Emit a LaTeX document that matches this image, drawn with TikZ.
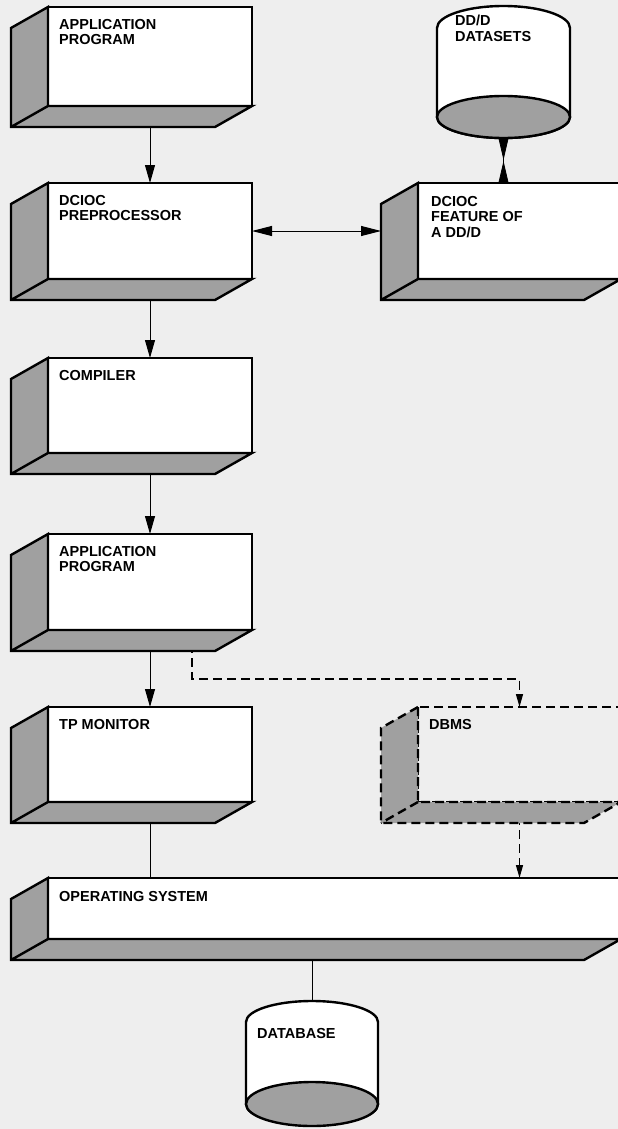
\documentclass[tikz,border=0pt]{standalone}
\usepackage{fontspec}
\setmainfont{Liberation Sans}
\usetikzlibrary{arrows.meta,positioning,backgrounds,calc}
\definecolor{paper}{RGB}{238,238,238}
\definecolor{stipple}{RGB}{160,160,160}
\tikzset{
  front/.style={rectangle, draw=black, line width=2.4pt, fill=white, outer sep=0pt,
                minimum width=204pt, minimum height=96pt, inner sep=0pt},
  ghost/.style={front, fill=none, dash pattern=on 9pt off 5pt},
  face/.style={draw=black, line width=2.4pt, fill=stipple},
  ghostface/.style={face, dash pattern=on 9pt off 5pt},
  caption/.style={anchor=north west, inner sep=0pt, align=left,
                  font=\fontsize{14.5}{15.5}\selectfont\bfseries},
  drum/.style={draw=black, line width=2.4pt, fill=white},
  flow/.style={-{Triangle[length=18pt,width=10pt]}, line width=1pt},
  twoway/.style={{Triangle[length=20pt,width=10pt]}-{Triangle[length=20pt,width=10pt]}, line width=1pt},
  hourglass/.style={{Triangle[reversed,length=22pt,width=10pt]}-{Triangle[reversed,length=22pt,width=10pt]}, line width=0.8pt},
  link/.style={line width=1pt},
  dflow/.style={-{Triangle[length=13pt,width=7pt]}, line width=1.3pt, dash pattern=on 9pt off 5pt},
}
\begin{document}
\begin{tikzpicture}[x=1pt, y=-1pt]
\useasboundingbox (0,0) rectangle (618,1129);

% left column
\node[front, minimum height=99pt, anchor=north west] (app) at (48,7) {};
\node[front, below=77pt of app] (pre) {};
\node[front, below=79pt of pre, minimum height=95pt] (comp) {};
\node[front, below=81pt of comp] (prog) {};
\node[front, below=77pt of prog, minimum height=95pt] (tp) {};
\node[front, minimum width=573pt, minimum height=61pt, below=76pt of tp.south west, anchor=north west] (os) {};

% right column
\node[front, right=166pt of pre, minimum width=203pt] (feat) {};
\node[ghost, right=166pt of tp, minimum width=203pt, minimum height=95pt] (dbms) {};

% side and bottom of each slab
\foreach \n in {app,pre,comp,prog,tp,feat,os}
  \draw[face] (\n.north west) -- ++(-37,21) |- ($(\n.south east)+(-37,21)$)
              -- (\n.south east) -- (\n.south west) -- cycle
              (\n.south west) -- ++(-37,21);
\draw[ghostface] (dbms.north west) -- ++(-37,21) |- ($(dbms.south east)+(-37,21)$)
              -- (dbms.south east) -- (dbms.south west) -- cycle
              (dbms.south west) -- ++(-37,21);

% datasets
\draw[drum] (437,28) arc[start angle=180, end angle=360, x radius=66.5, y radius=22]
  -- (570,117) arc[start angle=0, end angle=180, x radius=66.5, y radius=21] -- cycle;
\draw[face] (503.5,117) ellipse[x radius=66.5, y radius=21];
\coordinate (dsets-base) at (503.5,138);
\draw[drum] (246,1022) arc[start angle=180, end angle=360, x radius=66, y radius=21]
  -- (378,1104) arc[start angle=0, end angle=180, x radius=66, y radius=21] -- cycle;
\draw[face] (312,1104) ellipse[x radius=66, y radius=22];
\coordinate (dbase-top) at (312,1001);

% labels
\node[caption, below right=12pt and 11pt of app.north west] (app-txt) {APPLICATION\\PROGRAM};
\node[caption, below right=12pt and 11pt of pre.north west] (pre-txt) {DCIOC\\PREPROCESSOR};
\node[caption, below right=12pt and 11pt of comp.north west] (comp-txt) {COMPILER};
\node[caption, below right=12pt and 11pt of prog.north west] (prog-txt) {APPLICATION\\PROGRAM};
\node[caption, below right=12pt and 11pt of tp.north west] (tp-txt) {TP MONITOR};
\node[caption, below right=13pt and 11pt of os.north west] (os-txt) {OPERATING SYSTEM};
\node[caption, below right=13pt and 13pt of feat.north west] (feat-txt) {DCIOC\\FEATURE OF\\A DD/D};
\node[caption, below right=12pt and 11pt of dbms.north west] (dbms-txt) {DBMS};
\node[caption] (dsets) at (455,15) {DD/D\\DATASETS};
\node[caption] (dbase) at (257,1028) {DATABASE};

\begin{scope}[on background layer]
\fill[paper] (0,0) rectangle (618,1129);
\draw[flow] (app) -- (pre);
\draw[flow] (pre) -- (comp);
\draw[flow] (comp) -- (prog);
\draw[flow] (prog) -- (tp);
\draw[twoway, shorten >=37pt] (pre) -- (feat);
\draw[hourglass] (dsets-base) -- (dsets-base |- feat.north);
\draw[link] (tp.south) -- (tp.south |- os.north);
\draw[link] (dbase-top |- os.south) -- (dbase-top);
\draw[dflow] ([xshift=42pt]prog.south) -- ++(0,49) -| (dbms.north);
\draw[dflow] (dbms.south) -- (dbms.south |- os.north);
\end{scope}
\end{tikzpicture}
\end{document}
